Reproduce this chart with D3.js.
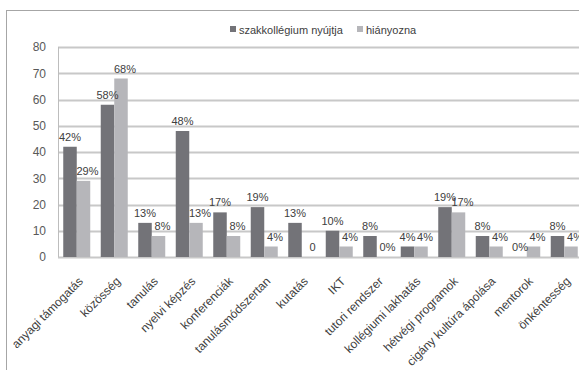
<!DOCTYPE html>
<html>
<head>
<meta charset="utf-8">
<script src="https://cdn.jsdelivr.net/npm/d3@7"></script>
<style>
  body { margin: 0; background: #fff; }
  svg { display: block; font-family: 'Liberation Sans', Arial, sans-serif; }
</style>
</head>
<body>
<svg id="chart"></svg>
<script>
const categories = ['anyagi támogatás', 'közösség', 'tanulás', 'nyelvi képzés', 'konferenciák',
  'tanulásmódszertan', 'kutatás', 'IKT', 'tutori rendszer', 'kollégiumi lakhatás',
  'hétvégi programok', 'cigány kultúra ápolása', 'mentorok', 'önkéntesség']
const seriesNames = ['szakkollégium nyújtja', 'hiányozna']
const provides = [42, 58, 13, 48, 17, 19, 13, 10, 8, 4, 19, 8, 0, 8]
const missing = [29, 68, 8, 13, 8, 4, 0, 4, 0, 4, 17, 4, 4, 4]
const missingLabels = ['29%', '68%', '8%', '13%', '8%', '4%', '0', '4%', '0%', '4%', '17%', '4%', '4%', '4%']
const yTicks = [0, 10, 20, 30, 40, 50, 60, 70, 80]

const width = 579
const height = 370
const margin = { top: 47, left: 58, bottom: 113, right: -4 }
const colors = ['#737378', '#b6b6ba']

const svg = d3.select('#chart').attr('width', width).attr('height', height)

// outer frame of the chart object
svg.append('rect')
  .attr('x', 6.5).attr('y', 10.5)
  .attr('width', 600).attr('height', 400)
  .attr('fill', 'none').attr('stroke', '#a6a6a6')

const x = d3.scaleBand()
  .domain(categories)
  .range([margin.left, width - margin.right])
  .paddingInner(0.28).paddingOuter(0.14)

const xSub = d3.scaleBand().domain([0, 1]).range([0, x.bandwidth()])

const y = d3.scaleLinear().domain([0, 80]).range([height - margin.bottom, margin.top])

// gridlines
svg.append('g').selectAll('line')
  .data(yTicks)
  .join('line')
  .attr('x1', margin.left).attr('x2', width + 10)
  .attr('y1', d => Math.round(y(d)) + 0.5).attr('y2', d => Math.round(y(d)) + 0.5)
  .attr('stroke', '#c8c8c8').attr('stroke-width', 2)

svg.append('line')
  .attr('x1', margin.left + 0.5).attr('x2', margin.left + 0.5)
  .attr('y1', y(80)).attr('y2', y(0))
  .attr('stroke', '#bdbdbd')

// y axis labels
const yAxis = d3.axisLeft(y).tickValues(yTicks).tickSize(0).tickPadding(12)
svg.append('g')
  .attr('transform', `translate(${margin.left},0)`)
  .call(yAxis)
  .call(g => g.select('.domain').remove())
  .call(g => g.selectAll('text').attr('fill', '#595959').attr('font-size', 12))

const data = categories.map((c, i) => ({ cat: c, vals: [provides[i], missing[i]], labels: [provides[i] + '%', missingLabels[i]] }))

const groups = svg.append('g').selectAll('g')
  .data(data)
  .join('g')
  .attr('transform', d => `translate(${x(d.cat)},0)`)

groups.selectAll('rect')
  .data(d => d.vals.map((v, k) => ({ v, k })))
  .join('rect')
  .attr('x', d => xSub(d.k))
  .attr('width', xSub.bandwidth())
  .attr('y', d => y(d.v))
  .attr('height', d => y(0) - y(d.v))
  .attr('fill', d => colors[d.k])

groups.selectAll('text')
  .data(d => d.vals.map((v, k) => ({ v, k, label: d.labels[k] })))
  .join('text')
  .attr('x', d => xSub(d.k) + xSub.bandwidth() / 2 + (d.k === 1 ? 4 : 0))
  .attr('y', d => y(d.v) - 6)
  .attr('text-anchor', 'middle')
  .attr('font-size', 11)
  .attr('fill', '#404040')
  .text(d => d.label)

// category labels
svg.append('g').selectAll('text')
  .data(categories)
  .join('text')
  .attr('transform', d => `translate(${x(d) + x.bandwidth() / 2 + 4},${y(0) + 22}) rotate(-45)`)
  .attr('text-anchor', 'end')
  .attr('dy', '0.35em')
  .attr('font-size', 12)
  .attr('fill', '#404040')
  .text(d => d)

// legend
const legend = svg.append('g').attr('transform', 'translate(230,30)')
const legendX = [0, 127]
seriesNames.forEach((name, i) => {
  const item = legend.append('g').attr('transform', `translate(${legendX[i]},0)`)
  item.append('rect').attr('x', 0).attr('y', -4).attr('width', 6).attr('height', 6).attr('fill', colors[i])
  item.append('text').attr('x', 9).attr('y', 0).attr('dy', '0.35em')
    .attr('font-size', 11).attr('fill', '#404040').text(name)
})
</script>
</body>
</html>
